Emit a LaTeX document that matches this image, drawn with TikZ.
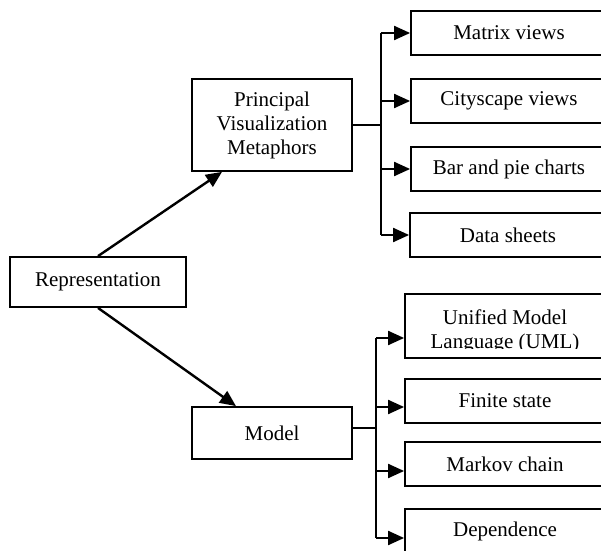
\documentclass[tikz,border=0pt]{standalone}
\usepackage{fontspec}
\setmainfont{Liberation Serif}
\usetikzlibrary{arrows.meta}

\begin{document}
\begin{tikzpicture}[x=0.5pt,y=-0.5pt,
    box/.style={draw,line width=0.9pt,inner sep=0pt,align=center,
      font=\fontsize{10.5}{12}\selectfont},
    leaf/.style={box,minimum width=98pt,minimum height=22pt},
    link/.style={line width=1pt},
    arr/.style={line width=1pt,-{Triangle[length=8pt,width=7pt]}},
    bigarr/.style={line width=1.2pt,-{Triangle[length=8pt,width=7pt]}}]
    \useasboundingbox (0,0) rectangle (601,551);
    \clip (0,0) rectangle (601,551);

    % root and the two branches
    \node[box,minimum width=88pt,minimum height=25pt] (rep) at (98,282) {Representation};
    \node[box,minimum width=80pt,minimum height=46pt] (pvm) at (272,125)
      {Principal\\Visualization\\Metaphors};
    \node[box,minimum width=80pt,minimum height=26pt] (model) at (272,433) {Model};

    \draw[bigarr] (rep.north) -- ([xshift=-25pt]pvm.south);
    \draw[bigarr] (rep.south) -- ([xshift=-18pt]model.north);

    % metaphors
    \node[leaf] (matrix) at (509,33) {Matrix views};
    \node[leaf] (city) at (509,101) {Cityscape views};
    \node[leaf] (bar) at (509,169) {Bar and pie charts};
    \node[leaf] (data) at (508,235) {Data sheets};

    \coordinate (pvmfork) at (380.5,125);
    \draw[link] (pvm.east) -- (pvmfork);
    \draw[link] (pvmfork |- matrix.west) -- (pvmfork |- data.west);
    \draw[arr] (pvmfork |- matrix.west) -- (matrix.west);
    \draw[arr] (pvmfork |- city.west) -- (city.west);
    \draw[arr] (pvmfork |- bar.west) -- (bar.west);
    \draw[arr] (pvmfork |- data.west) -- (data.west);

    % models
    \node[box,minimum width=100pt,minimum height=32pt] (uml) at (505,326) {};
    \begin{scope}
      \clip (uml.north west) rectangle ([yshift=5pt]uml.south east);
      \node[align=center,anchor=base,inner sep=0pt,
        font=\fontsize{10.5}{12}\selectfont] (umltext) at (505,349)
        {Unified Model\\Language (UML)};
    \end{scope}
    \node[leaf,minimum width=100pt] (finite) at (505,401) {Finite state};
    \node[leaf,minimum width=100pt] (markov) at (505,464) {Markov chain};
    \node[leaf,minimum width=100pt] (dep) at (505,531) {Dependence};

    \coordinate (umlin) at ([yshift=-6pt]uml.west);
    \coordinate (finitein) at ([yshift=-3pt]finite.west);
    \coordinate (markovin) at ([yshift=-3.5pt]markov.west);
    \coordinate (depin) at ([yshift=-3.5pt]dep.west);

    \coordinate (mfork) at (376,428.5);
    \draw[link] (model.east |- mfork) -- (mfork);
    \draw[link] (mfork |- umlin) -- (mfork |- depin);
    \draw[arr] (mfork |- umlin) -- (umlin);
    \draw[arr] (mfork |- finitein) -- (finitein);
    \draw[arr] (mfork |- markovin) -- (markovin);
    \draw[arr] (mfork |- depin) -- (depin);
\end{tikzpicture}
\end{document}
